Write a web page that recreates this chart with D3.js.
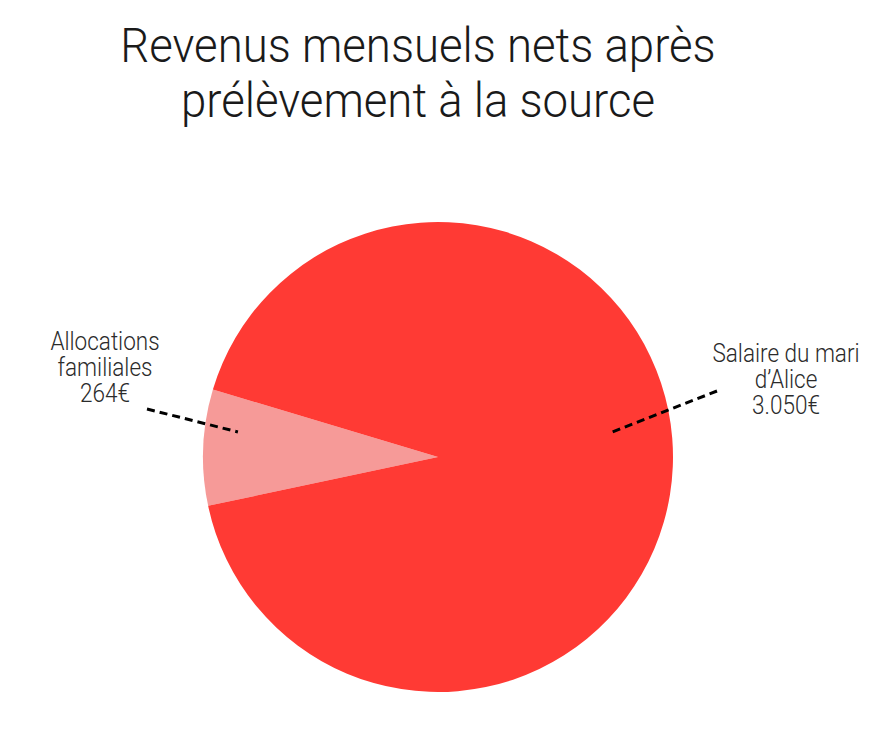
<!DOCTYPE html>
<html>
<head>
<meta charset="utf-8">
<script src="https://cdn.jsdelivr.net/npm/d3@7"></script>
<style>
  html, body { margin: 0; padding: 0; background: #fff; }
  text { font-family: Roboto, "Open Sans", sans-serif; font-weight: 300; }
</style>
</head>
<body>
<div id="chart"></div>
<script>
// data
var categories = ['Allocations familiales', 'Salaire du mari d\u2019Alice'];
var values = [264, 3050];
var labelLines = [['Allocations', 'familiales', '264\u20ac'], ['Salaire du mari', 'd\u2019Alice', '3.050\u20ac']];
var titleLines = ['Revenus mensuels nets apr\u00e8s', 'pr\u00e9l\u00e8vement \u00e0 la source'];

//config
var width = 892, height = 739;
var cx = 438, cy = 457, radius = 235;
var colors = d3.scaleOrdinal().domain(categories).range(['#f69a98', '#ff3a34']);

var svg = d3.select('#chart').append('svg')
    .attr('width', width)
    .attr('height', height);

//title
svg.append('g')
    .attr('transform', 'translate(418,0) scale(0.93,1)')
    .selectAll('text')
    .data(titleLines)
    .enter()
        .append('text')
        .attr('text-anchor', 'middle')
        .attr('fill', '#1a1a1a')
        .attr('y', function(d, i){ return 62 + i * 55; })
        .style('font-size', '49px')
        .text(function(d){ return d; });

//pie
var pie = d3.pie()
    .sort(null)
    .startAngle(258 * Math.PI / 180)
    .endAngle(618 * Math.PI / 180);

var arc = d3.arc().innerRadius(0).outerRadius(radius);
var arcs = pie(values);

var g = svg.append('g').attr('transform', 'translate(' + cx + ',' + cy + ')');
g.selectAll('path')
    .data(arcs)
    .enter()
        .append('path')
        .attr('d', arc)
        .attr('fill', function(d, i){ return colors(categories[i]); });

//leader lines: angle offset from slice middle (deg), inner radius factor, outer point
var leaders = [
    { da: 4.8, r0: 0.858, end: [-291, -48] },
    { da: -10.5, r0: 0.748, end: [279, -66] }
];
function polar(a, r){ return [Math.sin(a) * r, -Math.cos(a) * r]; }

g.selectAll('line.leader')
    .data(arcs)
    .enter()
        .append('line')
        .attr('class', 'leader')
        .each(function(d, i){
            var mid = (d.startAngle + d.endAngle) / 2 + leaders[i].da * Math.PI / 180;
            var p = polar(mid, radius * leaders[i].r0);
            d3.select(this)
                .attr('x1', leaders[i].end[0]).attr('y1', leaders[i].end[1])
                .attr('x2', p[0]).attr('y2', p[1]);
        })
        .attr('stroke', '#000')
        .attr('stroke-width', 3)
        .attr('stroke-dasharray', '8,5');

//labels
var labelPos = [[105 - cx, 350 - cy], [786 - cx, 362 - cy]];
var labels = g.selectAll('g.label')
    .data(labelLines)
    .enter()
        .append('g')
        .attr('class', 'label')
        .attr('transform', function(d, i){
            return 'translate(' + labelPos[i][0] + ',' + labelPos[i][1] + ') scale(0.85,1)';
        });

labels.selectAll('text')
    .data(function(d){ return d; })
    .enter()
        .append('text')
        .attr('text-anchor', 'middle')
        .attr('fill', '#2b2b2b')
        .attr('y', function(d, i){ return i * 26; })
        .style('font-size', '26.5px')
        .text(function(d){ return d; });
</script>
</body>
</html>
